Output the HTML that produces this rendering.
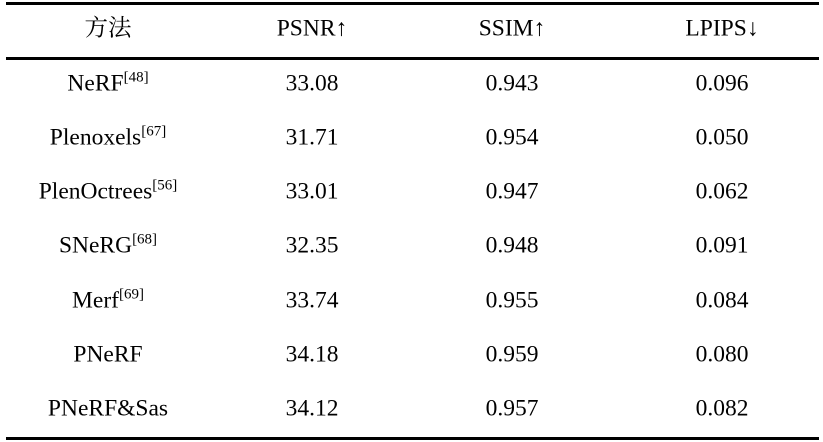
<!DOCTYPE html>
<html><head><meta charset="utf-8"><style>
body{margin:0;width:823px;height:442px;background:#fff;position:relative;font-family:"Liberation Serif","Noto Serif CJK SC",serif;font-size:23.5px;color:#000;overflow:hidden}
.l{position:absolute;left:6px;right:4px;height:3px;background:#000}
.t{position:absolute;transform:translate(-50%,-50%);white-space:nowrap;line-height:1}
sup{font-size:15px;vertical-align:0;position:relative;top:-9px}
</style></head><body>
<div class="l" style="top:2px"></div>
<div class="l" style="top:57px"></div>
<div class="l" style="top:437px"></div>
<div class="t" style="left:108px;top:29px">方法</div>
<div class="t" style="left:312px;top:29px">PSNR↑</div>
<div class="t" style="left:512px;top:29px">SSIM↑</div>
<div class="t" style="left:722px;top:29px">LPIPS↓</div>

<div class="t" style="left:108px;top:84px">NeRF<sup>[48]</sup></div>
<div class="t" style="left:312px;top:84px">33.08</div>
<div class="t" style="left:512px;top:84px">0.943</div>
<div class="t" style="left:722px;top:84px">0.096</div>

<div class="t" style="left:108px;top:138px">Plenoxels<sup>[67]</sup></div>
<div class="t" style="left:312px;top:138px">31.71</div>
<div class="t" style="left:512px;top:138px">0.954</div>
<div class="t" style="left:722px;top:138px">0.050</div>

<div class="t" style="left:108px;top:192px">PlenOctrees<sup>[56]</sup></div>
<div class="t" style="left:312px;top:192px">33.01</div>
<div class="t" style="left:512px;top:192px">0.947</div>
<div class="t" style="left:722px;top:192px">0.062</div>

<div class="t" style="left:108px;top:246px">SNeRG<sup>[68]</sup></div>
<div class="t" style="left:312px;top:246px">32.35</div>
<div class="t" style="left:512px;top:246px">0.948</div>
<div class="t" style="left:722px;top:246px">0.091</div>

<div class="t" style="left:108px;top:301px">Merf<sup>[69]</sup></div>
<div class="t" style="left:312px;top:301px">33.74</div>
<div class="t" style="left:512px;top:301px">0.955</div>
<div class="t" style="left:722px;top:301px">0.084</div>

<div class="t" style="left:108px;top:355px">PNeRF</div>
<div class="t" style="left:312px;top:355px">34.18</div>
<div class="t" style="left:512px;top:355px">0.959</div>
<div class="t" style="left:722px;top:355px">0.080</div>

<div class="t" style="left:108px;top:409px">PNeRF&amp;Sas</div>
<div class="t" style="left:312px;top:409px">34.12</div>
<div class="t" style="left:512px;top:409px">0.957</div>
<div class="t" style="left:722px;top:409px">0.082</div>
</body></html>
